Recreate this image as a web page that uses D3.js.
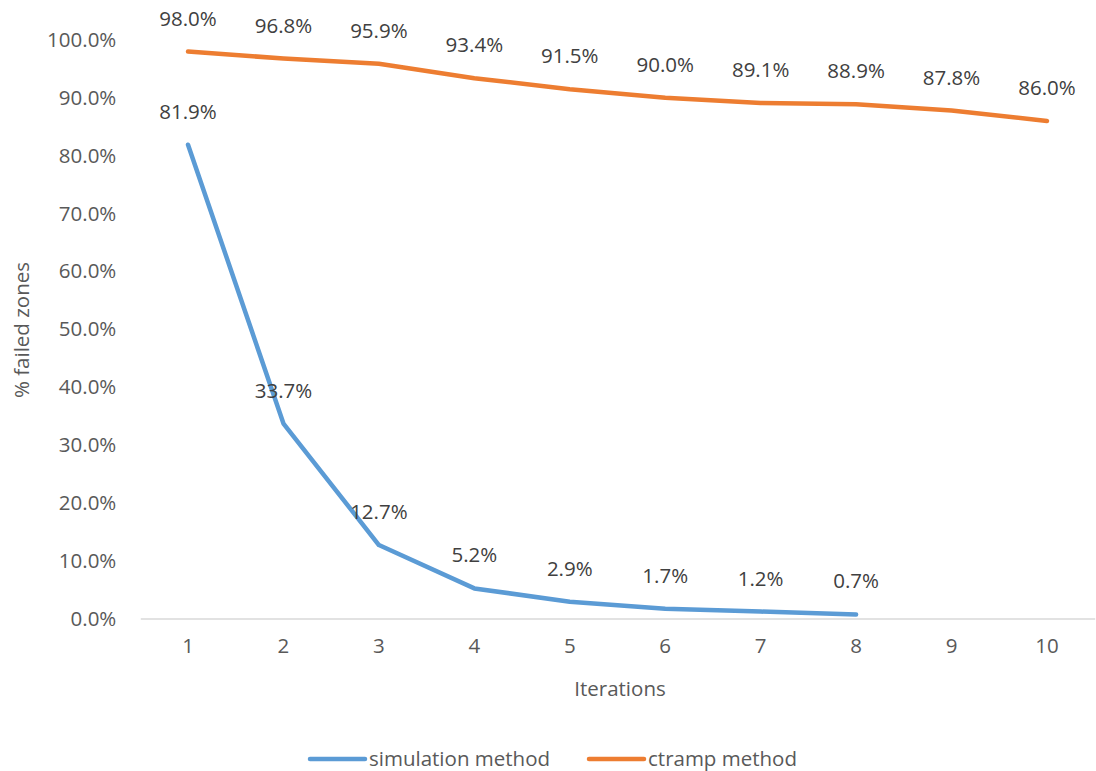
<!DOCTYPE html>
<html>
<head>
<meta charset="utf-8">
<script src="https://cdn.jsdelivr.net/npm/d3@7/dist/d3.min.js"></script>
<style>
  html, body { margin: 0; padding: 0; background: #fff; }
  svg { display: block; font-family: "Open Sans", "Noto Sans", sans-serif; }
</style>
</head>
<body>
<svg id="chart" width="1096" height="771"></svg>
<script>
// Iteration numbers along the x axis
const iterations = [1, 2, 3, 4, 5, 6, 7, 8, 9, 10];
// Share of failed zones (%) per iteration, for each method
const simulationValues = [81.9, 33.7, 12.7, 5.2, 2.9, 1.7, 1.2, 0.7];
const ctrampValues = [98.0, 96.8, 95.9, 93.4, 91.5, 90.0, 89.1, 88.9, 87.8, 86.0];
// Y axis ticks (%)
const yTicks = [0, 10, 20, 30, 40, 50, 60, 70, 80, 90, 100];

const series = [
  { name: "simulation method", values: simulationValues, color: "#5B9BD5" },
  { name: "ctramp method", values: ctrampValues, color: "#ED7D31" }
];

const fontSize = "20.5px";
const svg = d3.select("#chart");
const plotLeft = 140.3, plotRight = 1094.7, plotTop = 40, plotBottom = 618.5;

const x = d3.scaleBand().domain(iterations).range([plotLeft, plotRight]);
const xc = d => x(d) + x.bandwidth() / 2;
const y = d3.scaleLinear().domain([0, 100]).range([plotBottom, plotTop]);

// Y axis labels
const yAxis = svg.append("g")
  .attr("transform", `translate(${plotLeft},0)`)
  .call(d3.axisLeft(y).tickValues(yTicks).tickSize(0).tickPadding(24)
    .tickFormat(d => d.toFixed(1) + "%"));
yAxis.select(".domain").remove();
yAxis.selectAll("text")
  .attr("fill", "#595959").style("font-size", fontSize)
  .style("font-family", "'Open Sans', sans-serif");

// X axis
const xAxis = svg.append("g")
  .attr("transform", `translate(0,${plotBottom})`)
  .call(d3.axisBottom(x).tickSize(0).tickPadding(20));
xAxis.select(".domain").attr("stroke", "#D9D9D9").attr("stroke-width", 1.5);
xAxis.selectAll("text")
  .attr("fill", "#595959").style("font-size", fontSize)
  .style("font-family", "'Open Sans', sans-serif");

// Lines
const line = d3.line().x((d, i) => xc(iterations[i])).y(d => y(d));
series.forEach(s => {
  svg.append("path")
    .datum(s.values)
    .attr("d", line)
    .attr("fill", "none")
    .attr("stroke", s.color)
    .attr("stroke-width", 4.5)
    .attr("stroke-linejoin", "round")
    .attr("stroke-linecap", "round");
});

// Data labels above each point
series.forEach(s => {
  svg.append("g").selectAll("text")
    .data(s.values)
    .join("text")
    .attr("x", (d, i) => xc(iterations[i]))
    .attr("y", d => y(d) - 26)
    .attr("text-anchor", "middle")
    .attr("fill", "#404040")
    .style("font-size", fontSize)
    .text(d => d.toFixed(1) + "%");
});

// Axis titles
svg.append("text")
  .attr("transform", "translate(29,330) rotate(-90)")
  .attr("text-anchor", "middle")
  .attr("fill", "#595959")
  .style("font-size", fontSize)
  .text("% failed zones");

svg.append("text")
  .attr("x", 620).attr("y", 696)
  .attr("text-anchor", "middle")
  .attr("fill", "#595959")
  .style("font-size", fontSize)
  .text("Iterations");

// Legend
const legendX = [310, 589];
series.forEach((s, i) => {
  const g = svg.append("g").attr("transform", `translate(${legendX[i]},759)`);
  g.append("line").attr("x1", 0).attr("x2", 55).attr("y1", 0).attr("y2", 0)
    .attr("stroke", s.color).attr("stroke-width", 4.5).attr("stroke-linecap", "round");
  g.append("text").attr("x", 59).attr("y", 7)
    .attr("fill", "#595959").style("font-size", fontSize)
    .text(s.name);
});
</script>
</body>
</html>
